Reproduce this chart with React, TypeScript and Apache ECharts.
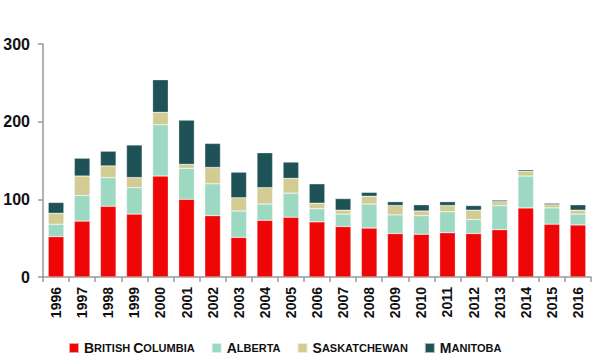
import React, { useEffect, useRef } from "react";
import * as echarts from "echarts";

const years = ["1996","1997","1998","1999","2000","2001","2002","2003","2004","2005","2006","2007","2008","2009","2010","2011","2012","2013","2014","2015","2016"];
const britishColumbia = [52, 72, 91, 81, 130, 100, 79, 51, 73, 77, 71, 65, 63, 56, 55, 57, 56, 61, 89, 68, 67];
const alberta = [16, 33, 37, 34, 66, 40, 41, 34, 21, 31, 17, 16, 31, 24, 24, 27, 18, 31, 41, 21, 14];
const saskatchewan = [14, 25, 15, 13, 16, 5, 21, 17, 21, 19, 7, 5, 10, 12, 6, 8, 12, 5, 6, 4, 5];
const manitoba = [14, 23, 19, 42, 42, 57, 31, 33, 45, 21, 25, 15, 5, 5, 8, 5, 6, 2, 2, 2, 7];
const yTicks = [0, 100, 200, 300];

const seriesNames = ["British Columbia", "Alberta", "Saskatchewan", "Manitoba"];
const seriesColors = ["#EF0606", "#9DD9C2", "#D2CC93", "#1F5257"];

function smallCaps(s: string): string {
  return s
    .split(" ")
    .map((w) => `{a|${w[0].toUpperCase()}}{b|${w.slice(1).toUpperCase()}}`)
    .join("{b| }");
}

const FONT = "Liberation Sans";

export default function App() {
  const ref = useRef<HTMLDivElement>(null);
  useEffect(() => {
    if (!ref.current) return;
    const chart = echarts.init(ref.current, undefined, { renderer: "svg" });
    const data = [britishColumbia, alberta, saskatchewan, manitoba];
    chart.setOption({
      animation: false,
      grid: { left: 43, right: 9, top: 44, bottom: 83 },
      legend: {
        top: 340,
        left: 68,
        padding: 0,
        itemWidth: 10,
        itemHeight: 10,
        itemGap: 16,
        icon: "rect",
        data: seriesNames,
        formatter: (n: string) => smallCaps(n),
        textStyle: {
          lineHeight: 16,
          rich: {
            a: { fontFamily: FONT, fontWeight: "bold", fontSize: 14, lineHeight: 16, color: "#111" },
            b: { fontFamily: FONT, fontWeight: "bold", fontSize: 11, lineHeight: 16, color: "#111" },
          },
        },
      },
      xAxis: {
        type: "category",
        data: years,
        axisLine: { lineStyle: { color: "#999", width: 1.5 } },
        axisTick: { show: true, length: 5, lineStyle: { color: "#999", width: 1.5 } },
        axisLabel: {
          rotate: 90,
          margin: 10,
          interval: 0,
          fontFamily: FONT,
          fontWeight: "bold",
          fontSize: 14,
          color: "#111",
        },
      },
      yAxis: {
        type: "value",
        min: 0,
        max: 300,
        interval: 100,
        axisLine: { show: true, lineStyle: { color: "#999", width: 1.5 } },
        axisTick: { show: true, length: 5, lineStyle: { color: "#999", width: 1.5 } },
        splitLine: { show: false },
        axisLabel: {
          margin: 13,
          fontFamily: FONT,
          fontWeight: "bold",
          fontSize: 16,
          color: "#111",
          formatter: (v: number) => (yTicks.includes(v) ? String(v) : ""),
        },
      },
      series: seriesNames.map((name, i) => ({
        name,
        type: "bar",
        stack: "total",
        barWidth: "60%",
        data: data[i],
        itemStyle: { color: seriesColors[i], borderColor: "rgba(255,255,255,0.6)", borderWidth: 0.5 },
      })),
    });
    return () => chart.dispose();
  }, []);
  return <div ref={ref} style={{ position: "absolute", left: 0, top: 0, width: 600, height: 360 }} />;
}
